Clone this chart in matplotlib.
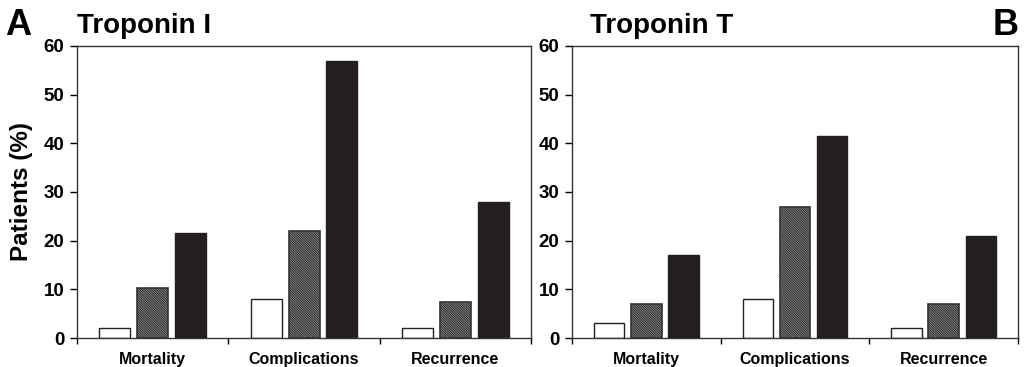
import matplotlib.pyplot as plt
import numpy as np

plt.rcParams['font.family'] = ['Liberation Sans', 'DejaVu Sans']
plt.rcParams['hatch.linewidth'] = 1.0

# categories and values (% of patients)
categories = ["Mortality", "Complications", "Recurrence"]
tni_low = [2, 8, 2]
tni_mid = [10.3, 22, 7.5]
tni_high = [21.5, 57, 28]
tnt_low = [3, 8, 2]
tnt_mid = [7, 27, 7]
tnt_high = [17, 41.5, 21]

panels = [
    ("Troponin I", "A", [tni_low, tni_mid, tni_high], 0.0),
    ("Troponin T", "B", [tnt_low, tnt_mid, tnt_high], 0.04),
]

fig = plt.figure(figsize=(10.24, 3.67), dpi=100)
positions = [[0.0752, 0.079, 0.4434, 0.7957], [0.5586, 0.079, 0.4355, 0.7957]]

x = np.arange(len(categories))
w = 0.205
off = 0.25
for (title, letter, series, tx), pos in zip(panels, positions):
    ax = fig.add_axes(pos)
    ax.bar(x - off, series[0], w, color="white", edgecolor="#222222", linewidth=1.0)
    ax.bar(x, series[1], w, color="white", edgecolor="#333333", linewidth=1.2,
           hatch="\\" * 14)
    ax.bar(x + off, series[2], w, color="#231f20", edgecolor="#231f20", linewidth=1.0)

    ax.set_xlim(-0.5, 2.5)
    ax.set_ylim(0, 60)
    ax.set_yticks(np.arange(0, 61, 10))
    ax.set_xticks([-0.5, 0.5, 1.5, 2.5])
    ax.set_xticklabels([])
    ax.set_xticks(x, minor=True)
    ax.set_xticklabels(categories, minor=True, fontsize=11.5, fontweight="bold")
    ax.tick_params(axis="x", which="minor", length=0, pad=10)
    ax.tick_params(axis="x", which="major", direction="out", length=4, width=1)
    ax.tick_params(axis="y", direction="out", length=5, width=1, labelsize=13.5, pad=4)
    for lbl in ax.get_yticklabels():
        lbl.set_fontweight("bold")
    for sp in ax.spines.values():
        sp.set_linewidth(1.0)
        sp.set_color("#333333")

    ax.text(tx, 1.045, title, transform=ax.transAxes, fontsize=20,
            fontweight="bold", ha="left", va="baseline")

fig.text(0.005, 0.905, "A", fontsize=26, fontweight="bold", ha="left", va="baseline")
fig.text(0.995, 0.905, "B", fontsize=26, fontweight="bold", ha="right", va="baseline")
fig.text(0.021, 0.477, "Patients (%)", fontsize=17.5, fontweight="bold",
         rotation=90, ha="center", va="center")

plt.savefig("out.png", dpi=100)
